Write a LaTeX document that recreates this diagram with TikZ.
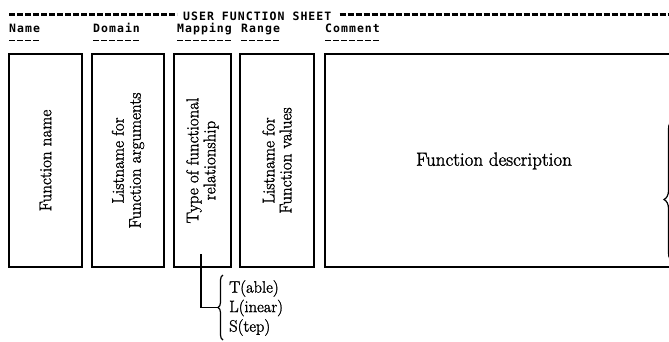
\documentclass[tikz,border=0pt]{standalone}
\usepackage{fontspec}
\newfontfamily\hdrfam[LetterSpace=9]{DejaVu Sans Mono}
\newfontfamily\inkrm[FakeBold=1.5]{Latin Modern Roman}
\usetikzlibrary{decorations.pathreplacing,calc}

\newcommand\hdrtype{\hdrfam\bfseries\fontsize{11.5}{12}\selectfont}
\newcommand\boxtype{\inkrm\fontsize{17}{17}\selectfont}
\newcommand\desctype{\inkrm\fontsize{19}{19}\selectfont}
\newcommand\opttype{\inkrm\fontsize{16.5}{19.5}\selectfont}

\tikzset{
  hdr/.style={font=\hdrtype, inner sep=0pt, anchor=base west},
  bar/.style={line width=3pt, dash pattern=on 6pt off 2pt},
  ul/.style={line width=1.8pt, dash pattern=on 5.5pt off 2.5pt},
  fbox/.style={draw, line width=2.2pt, inner sep=0pt, minimum height=213pt},
  vtext/.style={rotate=90, font=\boxtype, align=center, inner sep=0pt},
  conn/.style={line width=1.4pt},
  curly/.style={decorate, decoration={brace, amplitude=#1}, line width=1.2pt},
}

\begin{document}
\begin{tikzpicture}[x=1pt, y=-1pt]
\useasboundingbox (0,0) rectangle (669,341);

% sheet title with its rule of dashes
\node[hdr] (title) at (183,20) {USER FUNCTION SHEET};
\draw[bar] ($(title.base west)+(-174,-5.5)$) -- ($(title.base west)+(-6,-5.5)$);
\draw[bar] ($(title.base east)+(8,-5.5)$) -- ($(title.base east)+(380,-5.5)$);

% column headings, each underlined with dashes
\node[hdr] (hName) at (9,32)   {Name};
\node[hdr] (hDom)  at (93,32)  {Domain};
\node[hdr] (hMap)  at (177,32) {Mapping};
\node[hdr] (hRan)  at (241,32) {Range};
\node[hdr] (hCom)  at (325,32) {Comment};
\draw[ul] ($(hName.base west)+(0,8.5)$) -- ++(30,0);
\draw[ul] ($(hDom.base west)+(0,8.5)$)  -- ++(46,0);
\draw[ul] ($(hMap.base west)+(0,8.5)$)  -- ++(54,0);
\draw[ul] ($(hRan.base west)+(0,8.5)$)  -- ++(38,0);
\draw[ul] ($(hCom.base west)+(0,8.5)$)  -- ++(54,0);

% the five fields
\node[fbox, minimum width=73pt]  (b1) at (45.5,160.5)  {};
\node[fbox, minimum width=72pt]  (b2) at (128,160.5)   {};
\node[fbox, minimum width=57pt]  (b3) at (202.5,160.5) {};
\node[fbox, minimum width=74pt]  (b4) at (277,160.5)   {};
\node[fbox, minimum width=375pt] (b5) at (512.5,160.5) {};

\node[vtext] (t1) at (b1) {Function name};
\node[vtext] (t2) at (b2) {Listname for\\Function arguments};
\node[vtext] (t3) at (b3) {Type of functional\\relationship};
\node[vtext] (t4) at (b4) {Listname for\\Function values};
\node[font=\desctype, inner sep=0pt] (t5) at (494,161) {Function description};

% choices for the mapping type
\coordinate (tail) at ($(b3.south)+(-1.5,-14)$);
\coordinate (brTip) at (218,307.5);
\coordinate (brTop) at (223,275);
\coordinate (brBot) at (223,340);
\draw[conn] (tail) |- (brTip);
\draw[curly=5pt] (brBot) -- (brTop);
\node[font=\opttype, align=left, anchor=west, inner sep=0pt] (opts) at (229,308)
  {T(able)\\L(inear)\\S(tep)};

% brace at the right edge of the description field
\coordinate (rbTop) at (673,120);
\coordinate (rbBot) at (673,262);
\draw[curly=9pt, decoration={aspect=0.44}] (rbBot) -- (rbTop);
\end{tikzpicture}
\end{document}
